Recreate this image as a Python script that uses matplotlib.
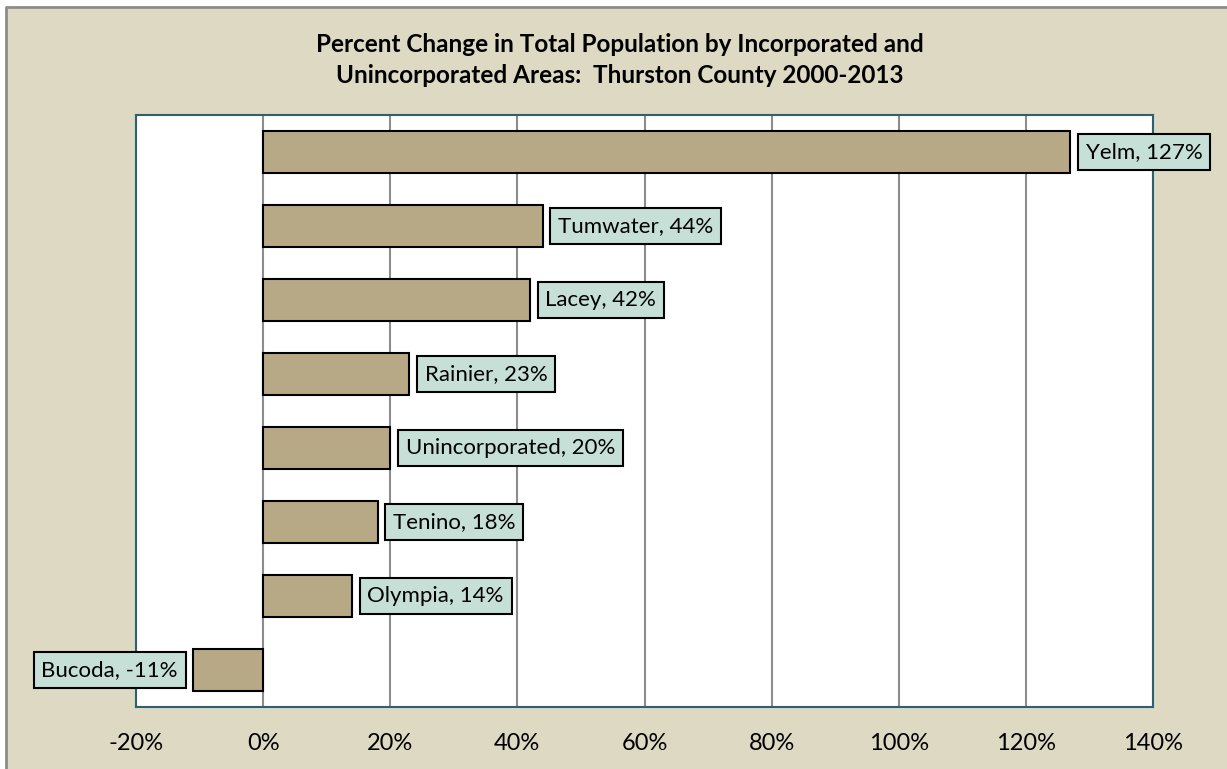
import matplotlib.pyplot as plt
from matplotlib.patches import Rectangle
from matplotlib.lines import Line2D
from matplotlib.ticker import FuncFormatter

areas = ['Bucoda', 'Olympia', 'Tenino', 'Unincorporated', 'Rainier', 'Lacey', 'Tumwater', 'Yelm']
pct = [-11, 14, 18, 20, 23, 42, 44, 127]
xticks = [-20, 0, 20, 40, 60, 80, 100, 120, 140]

bg = '#DDD9C3'
plt.rcParams['font.family'] = ['Lato', 'DejaVu Sans']

fig = plt.figure(figsize=(12.27, 7.69), dpi=100, facecolor='white')
x0, y0 = 6 / 1227, 1 - 7 / 769
fig.patches.append(Rectangle((x0, 0), 1 - x0, y0, transform=fig.transFigure, fc=bg, ec='none', zorder=-2))
fig.lines.append(Line2D([x0, x0, 1], [0, y0, y0], transform=fig.transFigure, color='#8C8C8C', lw=2, zorder=-1))

ax = fig.add_axes([136 / 1227, 1 - 707 / 769, (1153 - 136) / 1227, (707 - 115) / 769])
ax.set_facecolor('white')

ys = range(len(areas))
ax.barh(ys, pct, height=0.58, color='#B8A986', edgecolor='black', lw=1.5, zorder=3)
ax.set_xlim(-20, 140)
ax.set_ylim(-0.5, len(areas) - 0.5)
ax.set_xticks(xticks)
ax.xaxis.set_major_formatter(FuncFormatter(lambda v, p: f'{v:.0f}%'))
ax.set_yticks([])
ax.tick_params(axis='x', length=0, pad=19, labelsize=17)
ax.grid(axis='x', color='#8C8C8C', lw=1.5, zorder=0)
for s in ax.spines.values():
    s.set_color('#2E6170')
    s.set_linewidth(1.5)

for y, name, v in zip(ys, areas, pct):
    txt = f'{name}, {v}%'
    side = 1 if v >= 0 else -1
    ax.annotate(txt, (v, y), xytext=(side * 11, 0), textcoords='offset points',
                ha='left' if v >= 0 else 'right', va='center',
                fontsize=16, zorder=5, annotation_clip=False,
                bbox=dict(boxstyle='square,pad=0.35', fc='#C6E0D8', ec='black', lw=1.5))

fig.text(0.505, 1 - 60 / 769, 'Percent Change in Total Population by Incorporated and\n'
         'Unincorporated Areas:  Thurston County 2000-2013',
         ha='center', va='center', fontsize=17.5, fontweight='bold', linespacing=1.45)

fig.savefig('out.png', dpi=100, facecolor='white')
